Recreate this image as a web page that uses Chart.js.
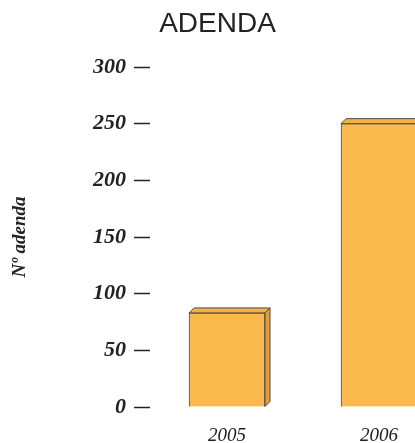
<!DOCTYPE html>
<html>
<head>
<meta charset="utf-8">
<script src="https://cdn.jsdelivr.net/npm/chart.js@4"></script>
<style>
  html, body { margin: 0; padding: 0; background: #fff; overflow: hidden; }
  #wrap { width: 415px; height: 443px; }
</style>
</head>
<body>
<div id="wrap"><canvas id="myChart" width="415" height="443"></canvas></div>
<script>
'use strict'
// values
const years = ['2005', '2006'];
const adendaCount = [83, 250];
const yTicks = [0, 50, 100, 150, 200, 250, 300];

const barFront = '#fbb84c';
const barTop = '#f6b048';
const barSide = '#e39e37';
const edge = '#4a4a4a';
const depth = 5;

// draws the little top and side faces so the bars look like boxes
const boxPlugin = {
  id: 'box3d',
  afterLayout(chart) {
    // title in the original sits a bit right of the canvas centre
    chart.titleBlock.left = 20;
  },
  afterDatasetsDraw(chart) {
    let ctx = chart.ctx;
    let meta = chart.getDatasetMeta(0);
    ctx.save();
    ctx.lineWidth = 1;
    ctx.strokeStyle = edge;
    meta.data.forEach(function (bar) {
      let p = bar.getProps(['x', 'y', 'base', 'width'], true);
      let left = p.x - p.width / 2;
      let right = p.x + p.width / 2;
      let top = p.y;
      let bottom = p.base;

      ctx.fillStyle = barTop;
      ctx.beginPath();
      ctx.moveTo(left, top);
      ctx.lineTo(left + depth, top - depth);
      ctx.lineTo(right + depth, top - depth);
      ctx.lineTo(right, top);
      ctx.closePath();
      ctx.fill();
      ctx.stroke();

      ctx.fillStyle = barSide;
      ctx.beginPath();
      ctx.moveTo(right, top);
      ctx.lineTo(right + depth, top - depth);
      ctx.lineTo(right + depth, bottom - depth);
      ctx.lineTo(right, bottom);
      ctx.closePath();
      ctx.fill();
      ctx.stroke();
    });
    ctx.restore();
  }
};

const unitPx = 152;
const plotLeft = 150;
const xMin = -(227 - plotLeft) / unitPx;
const xMax = xMin + (415 - plotLeft) / unitPx;

let myChart = new Chart(document.getElementById('myChart'), {
  type: 'bar',
  data: {
    datasets: [{
      label: 'Nº adenda',
      data: years.map((y, i) => ({ x: i, y: adendaCount[i] })),
      backgroundColor: barFront,
      borderColor: edge,
      borderWidth: 1,
      barThickness: 76
    }]
  },
  options: {
    responsive: false,
    animation: false,
    layout: { padding: 0 },
    plugins: {
      legend: { display: false },
      tooltip: { enabled: false },
      title: {
        display: true,
        text: 'ADENDA',
        color: '#222',
        font: { family: 'Liberation Sans', size: 28, weight: 'normal' },
        padding: { top: 7, bottom: 26.4 }
      }
    },
    scales: {
      x: {
        type: 'linear',
        offset: false,
        min: xMin,
        max: xMax,
        grid: { display: false, drawTicks: false, offset: false },
        border: { display: false },
        afterFit: s => { s.height = 36; s.paddingLeft = 0; s.paddingRight = 0; },
        ticks: {
          stepSize: 1,
          includeBounds: false,
          maxRotation: 0,
          autoSkip: false,
          padding: 18,
          color: '#222',
          font: { family: 'Liberation Serif', size: 19, style: 'italic' },
          callback: v => years[v] ?? ''
        }
      },
      y: {
        min: yTicks[0],
        max: yTicks[yTicks.length - 1],
        afterFit: s => { s.width = plotLeft; },
        grid: {
          drawOnChartArea: false,
          drawTicks: true,
          tickLength: 16,
          tickColor: '#222',
          tickWidth: 1.5
        },
        border: { display: false },
        ticks: {
          stepSize: 50,
          padding: 8,
          color: '#222',
          font: { family: 'Liberation Serif', size: 22, style: 'italic', weight: 'bold' }
        },
        title: {
          display: true,
          text: 'Nº adenda',
          color: '#222',
          padding: { top: 9, bottom: 0 },
          font: { family: 'Liberation Serif', size: 19, style: 'italic', weight: 'bold' }
        }
      }
    }
  },
  plugins: [boxPlugin]
});
</script>
</body>
</html>
